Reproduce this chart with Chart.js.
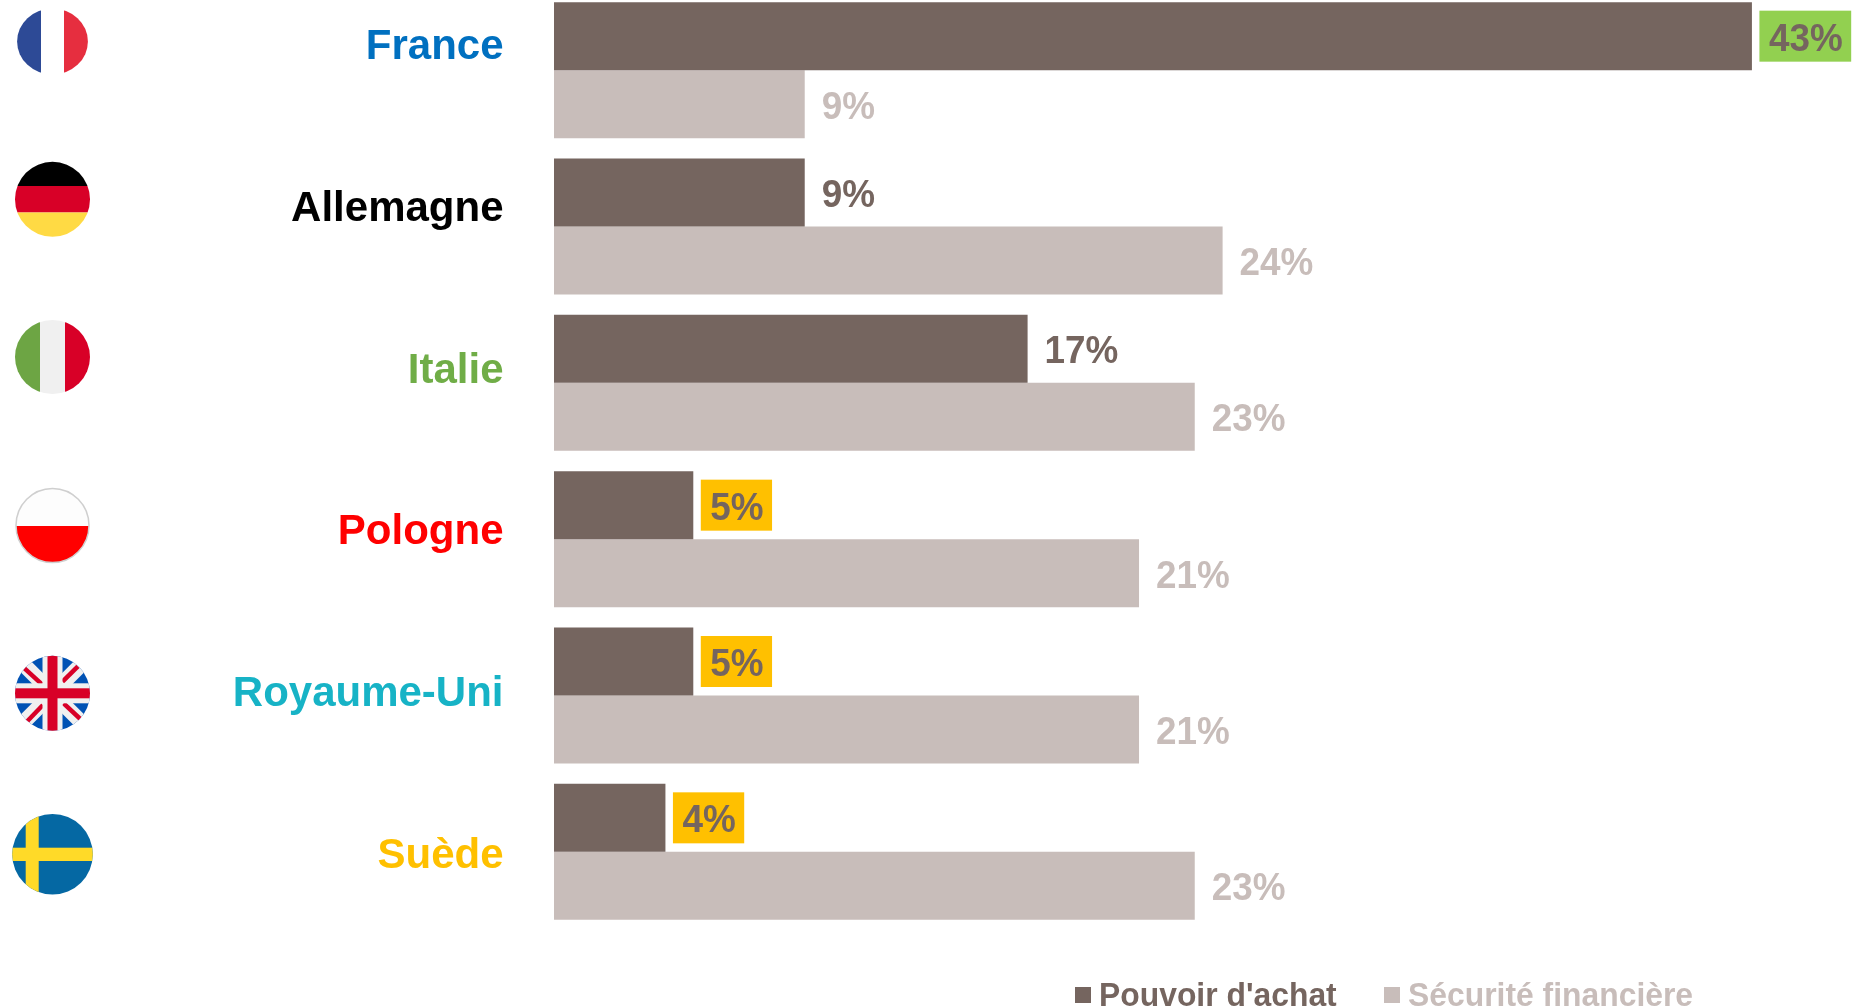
<!DOCTYPE html>
<html lang="fr">
<head>
<meta charset="utf-8">
<title>Pouvoir d'achat et sécurité financière</title>
<script src="https://cdn.jsdelivr.net/npm/chart.js@4"></script>
<style>
html,body{margin:0;padding:0;background:#fff;overflow:hidden}
#wrap{position:relative;width:1855px;height:1008px;overflow:hidden}
canvas{display:block;position:absolute;left:0;top:-8px}
</style>
</head>
<body>
<div id="wrap"><canvas id="c" width="1855" height="1016"></canvas></div>
<script>
const categories = ['France','Allemagne','Italie','Pologne','Royaume-Uni','Suède'];
const pouvoirAchat = [43,9,17,5,5,4];
const securiteFinanciere = [9,24,23,21,21,23];
const seriesNames = ["Pouvoir d'achat",'Sécurité financière'];
const categoryColors = ['#0070c0','#000000','#70ad47','#ff0000','#17b3c6','#ffc000'];
const highlightColors = ['#92d050',null,null,'#ffc000','#ffc000','#ffc000'];
const DARK = '#75655f', LIGHT = '#c8bdba';
const FONT = '"Liberation Sans", Arial, sans-serif';
const CANVAS_SHIFT = 8;

/* Country names sit on their own rhythm, not on the band centres */
const nameBaselines = [59,220.7,382.5,543.5,705.7,868.3];

function ellipse(ctx,f){ctx.beginPath();ctx.ellipse(f.x,f.y,f.rx,f.ry,0,0,Math.PI*2);}
function squeezedText(ctx,t,x,y,sx){ctx.save();ctx.translate(x,y);ctx.scale(sx,1);ctx.fillText(t,0,0);ctx.restore();}
const flags = [
  {x:52.5,y:41.5,rx:35.4,ry:33,draw(ctx){
    ctx.fillStyle='#2d4a96';ctx.fillRect(0,0,41,100);
    ctx.fillStyle='#e62e3f';ctx.fillRect(64,0,40,100);}},
  {x:52.5,y:199.3,rx:37.5,ry:37.5,draw(ctx){
    ctx.fillStyle='#000';ctx.fillRect(0,150,110,36);
    ctx.fillStyle='#d80027';ctx.fillRect(0,186,110,26.5);
    ctx.fillStyle='#ffda44';ctx.fillRect(0,212.5,110,40);}},
  {x:52.5,y:357,rx:37.5,ry:37,draw(ctx){
    ctx.fillStyle='#6da544';ctx.fillRect(0,310,40,100);
    ctx.fillStyle='#f0f0f0';ctx.fillRect(40,310,25,100);
    ctx.fillStyle='#d80027';ctx.fillRect(65,310,40,100);}},
  {x:52.5,y:525.5,rx:36.5,ry:37,outline:'#cfcfcf',draw(ctx){
    ctx.fillStyle='#fdfdfd';ctx.fillRect(0,480,110,46);
    ctx.fillStyle='#ff0000';ctx.fillRect(0,526,110,50);}},
  {x:52.5,y:693.3,rx:37.5,ry:37.5,draw(ctx,f){
    ctx.fillStyle='#0052b4';ctx.fillRect(0,650,110,90);
    const seg=(x1,y1,x2,y2,w,c)=>{ctx.strokeStyle=c;ctx.lineWidth=w;ctx.beginPath();
      ctx.moveTo(f.x+x1,f.y+y1);ctx.lineTo(f.x+x2,f.y+y2);ctx.stroke();};
    seg(-45,-45,45,45,15,'#f0f0f0');seg(-45,45,45,-45,15,'#f0f0f0');
    seg(-28,-25,-10.5,-9,4.5,'#d80027');seg(25.4,-27,10,-11.6,4.5,'#d80027');
    seg(-25.7,28.4,-9.6,11.7,4.5,'#d80027');seg(28.9,26.7,11.1,10,4.5,'#d80027');
    ctx.fillStyle='#f0f0f0';ctx.fillRect(f.x-10,650,20,90);ctx.fillRect(0,f.y-10,110,20);
    ctx.fillStyle='#d80027';ctx.fillRect(f.x-5,650,10,90);ctx.fillRect(0,f.y-5,110,10);}},
  {x:52.5,y:854.3,rx:40.3,ry:40.3,draw(ctx){
    ctx.fillStyle='#0568a3';ctx.fillRect(0,805,110,100);
    ctx.fillStyle='#ffda28';ctx.fillRect(25.7,805,13,100);ctx.fillRect(0,847.7,110,13.3);}}
];

const decorations = {
  id:'decorations',
  afterDatasetsDraw(chart){
    const ctx = chart.ctx;
    ctx.save();
    ctx.translate(0,CANVAS_SHIFT);
    /* flags */
    flags.forEach(f=>{
      ctx.save();ellipse(ctx,f);ctx.clip();f.draw(ctx,f);ctx.restore();
      if(f.outline){ctx.strokeStyle=f.outline;ctx.lineWidth=1.5;ellipse(ctx,f);ctx.stroke();}
    });
    /* country names */
    ctx.font='bold 42px '+FONT;ctx.textAlign='right';ctx.textBaseline='alphabetic';
    categories.forEach((n,i)=>{ctx.fillStyle=categoryColors[i];ctx.fillText(n,503.5,nameBaselines[i]);});
    /* value labels */
    const sx=0.945;
    ctx.font='bold 39px '+FONT;ctx.textAlign='left';
    chart.data.datasets.forEach((ds,di)=>{
      chart.getDatasetMeta(di).data.forEach((bar,i)=>{
        const txt=ds.data[i]+'%',w=ctx.measureText(txt).width*sx;
        const hl=di===0?highlightColors[i]:null;
        const bx=bar.x, by=bar.y-CANVAS_SHIFT;
        let tx=bx+17;
        if(hl){
          const l=bx+7.5;
          ctx.fillStyle=hl;ctx.fillRect(l,by-25.5,w+18,51);
          tx=l+9.5;
        }
        ctx.fillStyle=di===0?DARK:LIGHT;
        squeezedText(ctx,txt,tx,by+14.5,sx);
      });
    });
    /* legend */
    ctx.font='bold 34px '+FONT;
    [[1075,1099,DARK],[1384,1408,LIGHT]].forEach((l,i)=>{
      ctx.fillStyle=l[2];ctx.fillRect(l[0],987,16,16);
      squeezedText(ctx,seriesNames[i],l[1],1005.5,0.937);
    });
    ctx.restore();
  }
};

new Chart(document.getElementById('c'),{
  type:'bar',
  data:{labels:categories,datasets:[
    {label:seriesNames[0],data:pouvoirAchat,backgroundColor:DARK,borderWidth:0},
    {label:seriesNames[1],data:securiteFinanciere,backgroundColor:LIGHT,borderWidth:0}
  ]},
  options:{
    indexAxis:'y',responsive:false,animation:false,
    layout:{padding:{left:554,right:0,top:0,bottom:78}},
    datasets:{bar:{categoryPercentage:0.87,barPercentage:1}},
    scales:{
      x:{display:false,min:0,max:46.7},
      y:{display:false}
    },
    plugins:{legend:{display:false},tooltip:{enabled:false}}
  },
  plugins:[decorations]
});
</script>
</body>
</html>
